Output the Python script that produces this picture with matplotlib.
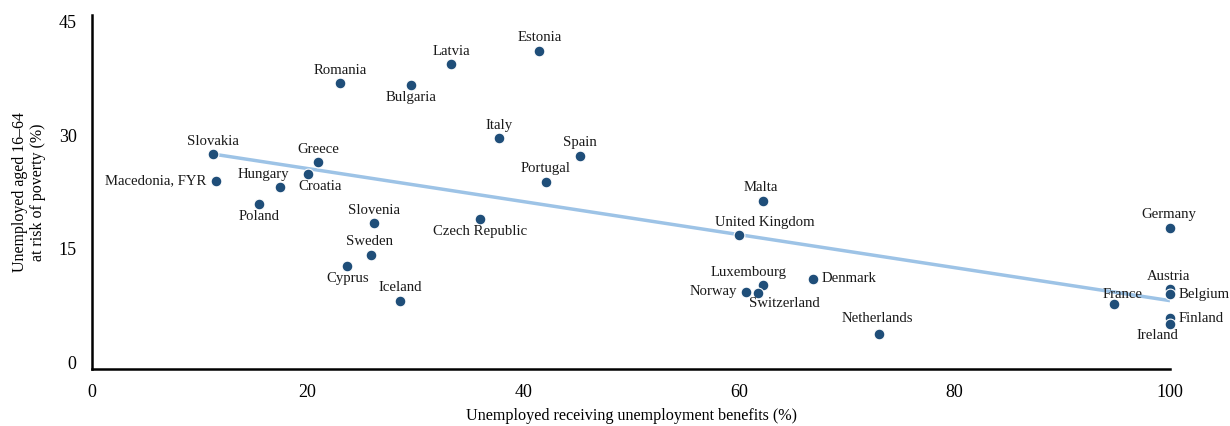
import matplotlib
matplotlib.use("Agg")
import matplotlib.pyplot as plt

# Values
countries = [
    "Slovakia", "Macedonia, FYR", "Hungary", "Poland", "Greece", "Croatia",
    "Romania", "Bulgaria", "Slovenia", "Sweden", "Cyprus", "Iceland",
    "Latvia", "Estonia", "Italy", "Spain", "Portugal", "Czech Republic",
    "Malta", "United Kingdom", "Luxembourg", "Norway", "Switzerland",
    "Denmark", "Netherlands", "Germany", "Austria", "Belgium", "France",
    "Finland", "Ireland",
]
benefits = [
    11.2, 11.5, 17.4, 15.5, 21.0, 20.0,
    23.0, 29.6, 26.2, 25.9, 23.7, 28.6,
    33.3, 41.5, 37.8, 45.3, 42.1, 36.0,
    62.2, 60.0, 62.2, 60.7, 61.8,
    66.9, 73.0, 100.0, 100.0, 100.0, 94.8,
    100.0, 100.0,
]
poverty = [
    27.5, 24.0, 23.2, 20.9, 26.4, 24.9,
    36.8, 36.6, 18.4, 14.2, 12.8, 8.2,
    39.3, 41.1, 29.6, 27.3, 23.8, 19.0,
    21.3, 16.9, 10.3, 9.4, 9.2,
    11.1, 3.8, 17.7, 9.7, 9.1, 7.8,
    5.9, 5.1,
]
trend_x = [11.2, 100.0]
trend_y = [27.5, 8.2]

x_ticks = [0, 20, 40, 60, 80, 100]
y_ticks = [0, 15, 30, 45]

# label placement: (dx, dy) in points, horizontal alignment
offsets = {
    "Slovakia": (0, 9, "center"),
    "Macedonia, FYR": (-7, 0, "right"),
    "Hungary": (-12, 9, "center"),
    "Poland": (0, -9, "center"),
    "Greece": (0, 9, "center"),
    "Croatia": (9, -9, "center"),
    "Romania": (0, 9, "center"),
    "Bulgaria": (0, -9, "center"),
    "Slovenia": (0, 9, "center"),
    "Sweden": (-1, 9.5, "center"),
    "Cyprus": (0, -9.5, "center"),
    "Iceland": (0, 9.5, "center"),
    "Latvia": (0, 9, "center"),
    "Estonia": (0, 9.5, "center"),
    "Italy": (0, 9, "center"),
    "Spain": (0, 9.5, "center"),
    "Portugal": (0, 10, "center"),
    "Czech Republic": (0, -9.5, "center"),
    "Malta": (-1, 9.5, "center"),
    "United Kingdom": (19, 9, "center"),
    "Luxembourg": (-10, 9, "center"),
    "Norway": (-7, 0, "right"),
    "Switzerland": (19, -7.5, "center"),
    "Denmark": (6, 0, "left"),
    "Netherlands": (-1, 11, "center"),
    "Germany": (-1, 10, "center"),
    "Austria": (-1, 9.5, "center"),
    "Belgium": (6, -0.5, "left"),
    "France": (6, 6.5, "center"),
    "Finland": (6, 0, "left"),
    "Ireland": (-9, -8, "center"),
}

DOT = "#1f4e79"
LINE = "#9dc3e6"

plt.rcParams["font.family"] = ["Liberation Serif", "DejaVu Serif"]

fig = plt.figure(figsize=(12.3, 4.26), dpi=100)
ax = fig.add_axes([92 / 1230, 57 / 426, 1078 / 1230, 354 / 426])

ax.plot(trend_x, trend_y, color=LINE, lw=2.5, solid_capstyle="butt", zorder=2)
ax.scatter(benefits, poverty, s=60, color=DOT, edgecolor="white",
           linewidth=0.8, zorder=3, clip_on=False)

for name, bx, py in zip(countries, benefits, poverty):
    dx, dy, ha = offsets[name]
    ax.annotate(name, (bx, py), xytext=(dx, dy), textcoords="offset points",
                ha=ha, va="center", fontsize=10.6, color="#1a1a1a", zorder=4)

# axis runs a touch past 0 and 45, as in the original chart
ax.set_xlim(0, 100)
ax.set_ylim(-0.8, 45.8)
ax.set_xticks(x_ticks)
ax.set_yticks(y_ticks)
ax.tick_params(length=0, labelsize=13, pad=11)
ax.tick_params(axis="y", pad=11)

for side in ("top", "right"):
    ax.spines[side].set_visible(False)
for side in ("left", "bottom"):
    ax.spines[side].set_linewidth(1.8)
    ax.spines[side].set_color("black")

ax.set_xlabel("Unemployed receiving unemployment benefits (%)",
              fontsize=11.6, labelpad=5)
ax.set_ylabel("Unemployed aged 16\u201364\nat risk of poverty (%)",
              fontsize=11.5, labelpad=9)

fig.savefig("out.png", dpi=100)
